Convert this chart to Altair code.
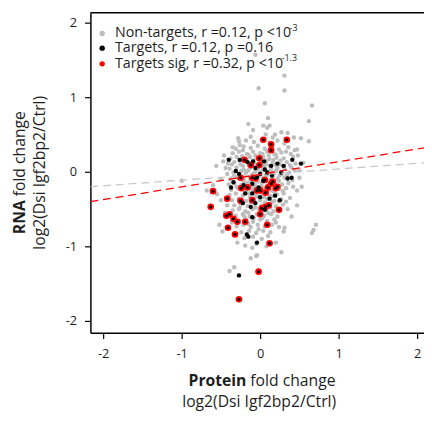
import altair as alt
import pandas as pd

# ---------------- data ----------------
gray_points = [
    (-0.06, 1.57), (0.31, 1.29), (-0.02, 1.12), (0.31, 1.09), (0.06, 0.92), (0.66, 0.89),
    (0.10, 0.72), (0.62, 0.68), (-0.15, 0.64), (-0.09, 0.56), (0.04, 0.62), (0.09, 0.59),
    (0.12, 0.62), (0.19, 0.50), (0.35, 0.52), (0.43, 0.46), (0.52, 0.45), (0.62, 0.41),
    (-0.27, 0.41), (-0.35, 0.33), (0.47, 0.30), (-0.47, 0.14), (-0.56, 0.08), (-1.00, -0.12),
    (-0.60, -0.18), (-0.55, -0.30), (-0.50, -0.38), (-0.68, -0.25), (0.53, -0.20), (0.47, -0.25),
    (0.50, 0.02), (0.55, 0.12), (0.71, -0.71), (0.68, -0.78), (0.66, -0.82), (0.47, -0.45),
    (0.40, -0.60), (-0.45, -0.55), (-0.50, -0.10), (0.50, -0.08), (-0.42, -0.45), (0.35, -0.50),
    (0.38, -0.35), (-0.46, 0.22), (0.27, -1.08), (-0.05, -1.13), (-0.39, -1.33), (-0.33, -1.28),
    (-0.10, -1.02), (0.20, -0.95), (-0.29, -0.95), (-0.19, -0.99), (-0.05, -0.97), (0.08, -1.00),
    (0.30, -0.80), (-0.36, -0.68), (-0.04, -1.12), (-0.12, -1.16), (0.31, -0.75), (-0.52, -0.71),
    (-0.48, -0.80),
    # core
    (-0.18, 0.42), (-0.08, 0.40), (0.03, 0.43), (0.12, 0.39), (0.22, 0.42), (0.31, 0.38), (-0.26, 0.36),
    (-0.31, 0.31), (-0.21, 0.34), (-0.12, 0.32), (-0.03, 0.35), (0.06, 0.31), (0.15, 0.34), (0.24, 0.30),
    (0.36, 0.33), (0.44, 0.29),
    (-0.35, 0.25), (-0.27, 0.27), (-0.17, 0.24), (-0.09, 0.27), (0.00, 0.25), (0.09, 0.27), (0.18, 0.24),
    (0.27, 0.26), (0.39, 0.24), (0.48, 0.22),
    (-0.38, 0.18), (-0.30, 0.20), (-0.22, 0.17), (-0.13, 0.20), (-0.05, 0.18), (0.04, 0.20), (0.12, 0.17),
    (0.21, 0.19), (0.30, 0.18), (0.42, 0.20),
    (-0.41, 0.11), (-0.33, 0.13), (-0.25, 0.10), (-0.17, 0.13), (-0.08, 0.11), (0.01, 0.13), (0.08, 0.10),
    (0.16, 0.12), (0.25, 0.10), (0.34, 0.13), (0.45, 0.11),
    (-0.39, 0.04), (-0.30, 0.06), (-0.21, 0.03), (-0.12, 0.06), (-0.03, 0.04), (0.05, 0.06), (0.14, 0.03),
    (0.22, 0.05), (0.31, 0.04), (0.40, 0.06),
    (-0.42, -0.03), (-0.34, -0.01), (-0.26, -0.04), (-0.18, -0.01), (-0.09, -0.03), (0.00, -0.01),
    (0.09, -0.04), (0.18, -0.02), (0.27, -0.03), (0.37, -0.01),
    (-0.38, -0.10), (-0.29, -0.08), (-0.21, -0.11), (-0.13, -0.08), (-0.04, -0.10), (0.04, -0.08),
    (0.13, -0.11), (0.22, -0.09), (0.31, -0.08), (0.41, -0.11),
    (-0.40, -0.17), (-0.33, -0.15), (-0.24, -0.18), (-0.16, -0.15), (-0.07, -0.17), (0.02, -0.15),
    (0.10, -0.18), (0.19, -0.16), (0.28, -0.17), (0.36, -0.15),
    (-0.37, -0.24), (-0.28, -0.22), (-0.20, -0.25), (-0.11, -0.22), (-0.02, -0.24), (0.07, -0.22),
    (0.15, -0.25), (0.24, -0.23), (0.33, -0.22),
    (-0.39, -0.31), (-0.31, -0.29), (-0.22, -0.32), (-0.14, -0.29), (-0.05, -0.31), (0.03, -0.29),
    (0.12, -0.32), (0.21, -0.30), (0.30, -0.29),
    (-0.36, -0.38), (-0.27, -0.36), (-0.18, -0.39), (-0.09, -0.36), (0.00, -0.38), (0.09, -0.36),
    (0.18, -0.39), (0.27, -0.37),
    (-0.33, -0.45), (-0.25, -0.43), (-0.16, -0.46), (-0.07, -0.43), (0.02, -0.45), (0.11, -0.43),
    (0.20, -0.46), (0.29, -0.44),
    (-0.35, -0.52), (-0.27, -0.50), (-0.19, -0.53), (-0.10, -0.50), (-0.01, -0.52), (0.08, -0.50),
    (0.17, -0.53), (0.25, -0.51),
    (-0.31, -0.59), (-0.22, -0.57), (-0.13, -0.60), (-0.04, -0.57), (0.05, -0.59), (0.14, -0.57),
    (0.22, -0.60),
    (-0.27, -0.66), (-0.18, -0.64), (-0.09, -0.67), (0.00, -0.64), (0.09, -0.66), (0.18, -0.64),
    (-0.30, -0.73), (-0.21, -0.71), (-0.12, -0.74), (-0.03, -0.71), (0.06, -0.73), (0.15, -0.71),
    (0.24, -0.74),
    (-0.24, -0.81), (-0.14, -0.79), (-0.05, -0.82), (0.04, -0.79), (0.13, -0.81),
    (-0.20, -0.89), (-0.09, -0.87), (0.02, -0.90), (0.10, -0.86),
    # extra density in the centre
    (-0.23, 0.21), (-0.15, 0.23), (-0.06, 0.22), (0.03, 0.24), (0.11, 0.22), (0.20, 0.23),
    (-0.26, 0.15), (-0.18, 0.16), (-0.09, 0.15), (0.00, 0.16), (0.08, 0.15), (0.17, 0.16), (0.26, 0.15),
    (-0.22, 0.08), (-0.14, 0.09), (-0.05, 0.08), (0.04, 0.09), (0.12, 0.08), (0.20, 0.09), (0.29, 0.08),
    (-0.24, 0.01), (-0.15, 0.02), (-0.06, 0.00), (0.03, 0.02), (0.11, 0.00), (0.20, 0.01),
    (-0.20, -0.06), (-0.11, -0.05), (-0.02, -0.06), (0.07, -0.05), (0.16, -0.06), (0.25, -0.05),
    (-0.21, -0.13), (-0.12, -0.12), (-0.03, -0.13), (0.06, -0.12), (0.15, -0.13), (0.24, -0.12),
    (-0.16, -0.20), (-0.07, -0.19), (0.02, -0.20), (0.11, -0.19), (0.20, -0.20),
    (-0.18, -0.27), (-0.09, -0.26), (0.00, -0.27), (0.09, -0.26), (0.18, -0.27),
    (-0.13, -0.34), (-0.04, -0.33), (0.05, -0.34), (0.14, -0.33), (-0.22, -0.42), (-0.12, -0.41),
    (0.06, -0.41), (0.15, -0.41), (-0.06, -0.48), (0.04, -0.48), (0.13, -0.48), (-0.15, -0.55),
    (-0.08, -0.62), (0.03, -0.62),
    (-0.28, 0.45), (-0.12, 0.47), (0.07, 0.50), (0.16, 0.46), (0.27, 0.53), (-0.22, 0.29),
    (0.33, 0.27), (-0.36, 0.10), (0.38, 0.09), (-0.33, -0.06), (0.34, -0.05), (-0.30, -0.20),
    (0.29, -0.26), (-0.26, -0.48), (0.24, -0.40), (-0.20, -0.60), (0.10, -0.55), (-0.15, -0.70),
    (0.20, -0.68), (-0.02, -0.77), (0.42, -0.20), (0.44, 0.02), (-0.44, 0.05), (-0.40, -0.36),
    (0.33, -0.40),
]

target_points = [
    (-0.40, 0.16), (-0.26, 0.16), (-0.16, 0.13), (-0.06, 0.05), (0.06, 0.03), (0.14, 0.08),
    (0.22, 0.11), (0.41, 0.16), (0.52, 0.11), (0.35, -0.09), (-0.31, 0.01), (-0.27, -0.03),
    (0.00, -0.03), (-0.10, -0.16), (-0.02, -0.21), (-0.19, -0.29), (-0.10, -0.29), (0.00, -0.34),
    (-0.22, -0.42), (-0.12, -0.47), (-0.06, -0.42), (-0.10, -0.61), (-0.17, -0.84), (-0.15, -0.87),
    (-0.04, -0.95), (-0.34, -0.14), (0.15, -0.05), (0.27, -0.01), (-0.37, -0.21), (0.19, -0.32),
    (-0.27, -1.39), (-0.09, 0.14), (0.05, 0.14), (0.30, 0.08), (0.40, -0.08), (0.04, -0.12),
    (-0.04, -0.07), (0.09, -0.01), (-0.21, -0.18), (0.12, -0.36), (0.25, -0.38), (0.06, -0.51),
]

sig_points = [
    (0.04, 0.43), (0.14, 0.37), (0.14, 0.29), (0.34, 0.43), (-0.20, 0.16), (-0.01, 0.18),
    (-0.12, 0.09), (-0.01, 0.09), (-0.25, -0.08), (-0.10, -0.08), (-0.06, -0.09), (0.06, -0.11),
    (0.16, -0.13), (0.14, -0.16), (-0.60, -0.26), (-0.24, -0.22), (-0.16, -0.21), (-0.04, -0.25),
    (0.00, -0.25), (0.07, -0.28), (0.10, -0.21), (0.22, -0.20), (0.20, -0.22), (-0.42, -0.36),
    (-0.25, -0.39), (-0.63, -0.47), (-0.10, -0.38), (0.02, -0.49), (0.11, -0.45), (0.07, -0.47),
    (0.24, -0.51), (-0.43, -0.59), (-0.39, -0.57), (-0.34, -0.63), (0.00, -0.57), (-0.29, -0.67),
    (-0.41, -0.75), (-0.19, -0.67), (0.09, -0.71), (-0.32, -0.84), (0.12, -0.96), (-0.02, -1.34),
    (-0.27, -1.71),
]

fit_x = [-2.1625, 2.0875]
fit_gray_y = [-0.20, 0.12]
fit_red_y = [-0.40, 0.32]

legend_labels = [
    "Non-targets, r =0.12, p <10",
    "Targets, r =0.12, p =0.16",
    "Targets sig, r =0.32, p <10",
]
legend_sups = ["-3", "", "-1.3"]
legend_colors = ["#bdbdbd", "#000000", "#ff0000"]

tick_values = [-2, -1, 0, 1, 2]

# ---------------- chart ----------------
FONT = "Open Sans"
W, H = 340, 326
TXT = "#1e1e1e"

gray_df = pd.DataFrame(gray_points, columns=["x", "y"])
tgt_only_df = pd.DataFrame(target_points, columns=["x", "y"])
sig_df = pd.DataFrame(sig_points, columns=["x", "y"])
fit_df = pd.DataFrame({
    "x": fit_x + fit_x,
    "y": fit_gray_y + fit_red_y,
    "s": ["gray", "gray", "red", "red"],
})

label_expr = "datum.value < 0 ? '-' + format(abs(datum.value), 'd') : format(datum.value, 'd')"
xs = alt.Scale(domain=[-2.1625, 2.0875], nice=False, zero=False)
ys = alt.Scale(domain=[-2.158, 2.132], nice=False, zero=False)
x_enc = alt.X("x:Q", scale=xs, axis=alt.Axis(values=tick_values, title=None, grid=False,
                                             labelExpr=label_expr, tickSize=6, labelPadding=9))
y_enc = alt.Y("y:Q", scale=ys, axis=alt.Axis(values=tick_values, title=None, grid=False,
                                             labelExpr=label_expr, tickSize=6, labelPadding=8))

gray = alt.Chart(gray_df).mark_circle(size=20, color="#bdbdbd", opacity=1).encode(x=x_enc, y=y_enc)
tgt_only = alt.Chart(tgt_only_df).mark_circle(size=20, color="#000000", opacity=1).encode(x=x_enc, y=y_enc)
sig = alt.Chart(sig_df).mark_circle(size=46, color="#ff0000", opacity=1).encode(x=x_enc, y=y_enc)
sig_center = alt.Chart(sig_df).mark_circle(size=10, color="#000000", opacity=1).encode(x=x_enc, y=y_enc)

fits = alt.Chart(fit_df).mark_line(strokeDash=[8, 5], strokeWidth=1.3, clip=True).encode(
    x=alt.X("x:Q", scale=xs),
    y=alt.Y("y:Q", scale=ys),
    detail="s:N",
    color=alt.Color("s:N", scale=alt.Scale(domain=["gray", "red"], range=["#c8c8c8", "#ff0000"]),
                    legend=None),
)

top_line = alt.Chart(pd.DataFrame({"a": [0]})).mark_rule(color="black", strokeWidth=1.5).encode(
    x=alt.value(0), x2=alt.value(W), y=alt.value(0)
)

one = pd.DataFrame({"a": [0]})
legend_layers = []
leg_y = [21, 36, 52]
sup_x = [203, None, 195]
for i, lab in enumerate(legend_labels):
    legend_layers.append(
        alt.Chart(one).mark_circle(size=30, color=legend_colors[i], opacity=1).encode(
            x=alt.value(12), y=alt.value(leg_y[i]))
    )
    legend_layers.append(
        alt.Chart(one).mark_text(text=lab, align="left", baseline="middle", font=FONT,
                                 fontSize=14.5, color=TXT).encode(
            x=alt.value(25), y=alt.value(leg_y[i]))
    )
    if legend_sups[i]:
        legend_layers.append(
            alt.Chart(one).mark_text(text=legend_sups[i], align="left", baseline="middle", font=FONT,
                                     fontSize=9, color=TXT).encode(
                x=alt.value(sup_x[i]), y=alt.value(leg_y[i] - 6))
        )

title_layers = [
    alt.Chart(one).mark_text(text="Protein", align="right", baseline="middle", font=FONT,
                             fontSize=16, fontWeight="bold", color=TXT).encode(
        x=alt.value(159), y=alt.value(375)),
    alt.Chart(one).mark_text(text="fold change", align="left", baseline="middle", font=FONT,
                             fontSize=16, color=TXT).encode(
        x=alt.value(163), y=alt.value(375)),
    alt.Chart(one).mark_text(text="log2(Dsi Igf2bp2/Ctrl)", align="center", baseline="middle",
                             font=FONT, fontSize=16, color=TXT).encode(
        x=alt.value(172), y=alt.value(397)),
    alt.Chart(one).mark_text(text="RNA", align="right", baseline="middle", font=FONT, angle=270,
                             fontSize=16, fontWeight="bold", color=TXT).encode(
        x=alt.value(-72), y=alt.value(191)),
    alt.Chart(one).mark_text(text="fold change", align="left", baseline="middle", font=FONT,
                             angle=270, fontSize=16, color=TXT).encode(
        x=alt.value(-72), y=alt.value(187)),
    alt.Chart(one).mark_text(text="log2(Dsi Igf2bp2/Ctrl)", align="center", baseline="middle",
                             font=FONT, angle=270, fontSize=16, color=TXT).encode(
        x=alt.value(-51), y=alt.value(163)),
]

chart = alt.layer(
    gray, sig, tgt_only, sig_center, fits, top_line, *legend_layers, *title_layers
).properties(
    width=W, height=H,
    autosize=alt.AutoSizeParams(type="none"),
    padding={"left": 84, "top": 1, "right": 0, "bottom": 82},
).configure_view(strokeWidth=0).configure_axis(
    domainColor="black", domainWidth=1.5, tickColor="black", tickWidth=1.2,
    labelFont=FONT, labelFontSize=13, labelColor=TXT,
)

chart.save("out.html", embed_options={"renderer": "svg", "actions": False})
